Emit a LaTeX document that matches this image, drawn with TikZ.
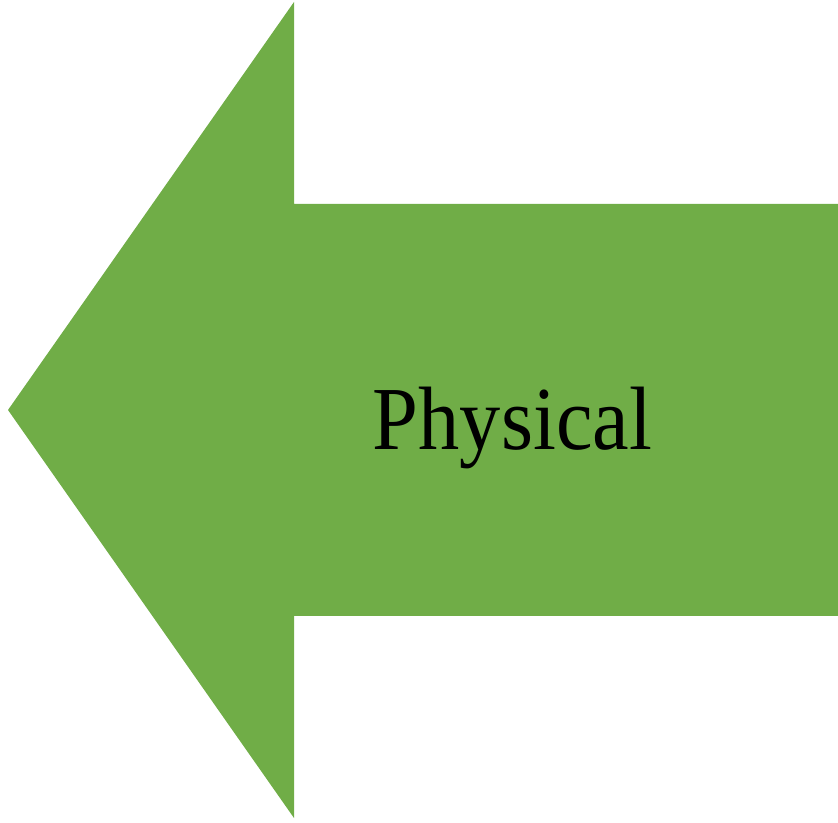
\documentclass[tikz,border=0pt]{standalone}
\usepackage{fontspec}
\setmainfont{Liberation Serif}
\definecolor{arrowgreen}{HTML}{70AD47}
\tikzset{
  arrowshape/.style={fill=arrowgreen, draw=none},
  labeltext/.style={font=\fontsize{90}{100}\selectfont, text=black, inner sep=0pt, anchor=base}
}
\begin{document}
\begin{tikzpicture}[x=1pt,y=1pt]
\useasboundingbox (0,0) rectangle (838,822);
\fill[arrowshape] (8,412) -- (294,820) -- (294,618) -- (838,618) -- (838,206) -- (294,206) -- (294,4) -- cycle;
\node[labeltext] (lbl) at (512.5,372) {\scalebox{0.915}[1]{Physical}};
\end{tikzpicture}
\end{document}
